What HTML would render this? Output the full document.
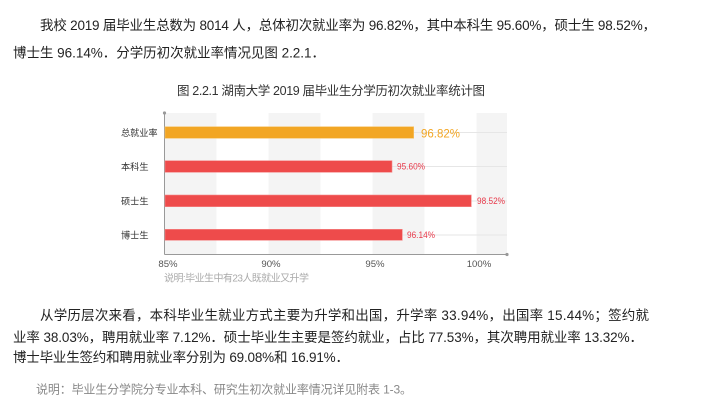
<!DOCTYPE html>
<html><head><meta charset="utf-8"><style>
html,body{margin:0;padding:0;background:#fff;}
svg{display:block;}
text{font-family:"Liberation Sans","Noto Sans CJK SC",sans-serif;}
</style></head><body>
<svg width="716" height="409" viewBox="0 0 716 409" xmlns="http://www.w3.org/2000/svg">
<rect width="716" height="409" fill="#fff"/>
<g fill="#222" font-size="13.5">
<text x="40" y="30" textLength="616" lengthAdjust="spacing">我校 2019 届毕业生总数为 8014 人，总体初次就业率为 96.82%，其中本科生 95.60%，硕士生 98.52%，</text>
<text x="13" y="57.5" textLength="312" lengthAdjust="spacing">博士生 96.14%．分学历初次就业率情况见图 2.2.1．</text>
<text x="40" y="320" textLength="609" lengthAdjust="spacing">从学历层次来看，本科毕业生就业方式主要为升学和出国，升学率 33.94%，出国率 15.44%；签约就</text>
<text x="13" y="342" textLength="630" lengthAdjust="spacing">业率 38.03%，聘用就业率 7.12%．硕士毕业生主要是签约就业，占比 77.53%，其次聘用就业率 13.32%．</text>
<text x="13" y="362" textLength="336" lengthAdjust="spacing">博士毕业生签约和聘用就业率分别为 69.08%和 16.91%．</text>
</g>
<text x="36" y="393.5" font-size="12" fill="#888" textLength="376" lengthAdjust="spacing">说明：毕业生分学院分专业本科、研究生初次就业率情况详见附表 1-3。</text>
<text x="177" y="95" font-size="12.5" fill="#333" textLength="308" lengthAdjust="spacing">图 2.2.1 湖南大学 2019 届毕业生分学历初次就业率统计图</text>

<!-- chart bands -->
<g fill="#f4f4f4">
<rect x="164.5" y="113" width="52" height="141"/>
<rect x="268.5" y="113" width="52" height="141"/>
<rect x="372.5" y="113" width="52" height="141"/>
<rect x="476.5" y="113" width="30.5" height="141"/>
</g>
<!-- grid lines -->
<g stroke="#e6e6e6" stroke-width="1">
<line x1="164.5" y1="132.5" x2="507" y2="132.5"/>
<line x1="164.5" y1="166.5" x2="507" y2="166.5"/>
<line x1="164.5" y1="201" x2="507" y2="201"/>
<line x1="164.5" y1="235" x2="507" y2="235"/>
</g>
<!-- axes -->
<g stroke="#999" stroke-width="1">
<line x1="164.5" y1="113" x2="164.5" y2="254.5"/>
<line x1="164.5" y1="254.5" x2="507" y2="254.5"/>
</g>
<circle cx="164.5" cy="113" r="1.6" fill="#999"/>
<circle cx="507" cy="254.5" r="1.6" fill="#999"/>
<!-- bars -->
<rect x="165" y="126.7" width="248.7" height="11.6" fill="#f2a624" stroke="#f7c56e" stroke-width="0.6"/>
<rect x="165" y="160.7" width="227" height="11.6" fill="#ee4b4b" stroke="#f58a8a" stroke-width="0.6"/>
<rect x="165" y="195" width="306.3" height="11.7" fill="#ee4b4b" stroke="#f58a8a" stroke-width="0.6"/>
<rect x="165" y="229.3" width="237.3" height="11" fill="#ee4b4b" stroke="#f58a8a" stroke-width="0.6"/>
<!-- value labels -->
<text x="421" y="137.3" font-size="12" fill="#f2a624" textLength="39" lengthAdjust="spacingAndGlyphs">96.82%</text>
<text x="397" y="169.6" font-size="8.8" fill="#e8394a" textLength="28" lengthAdjust="spacingAndGlyphs">95.60%</text>
<text x="477" y="204.1" font-size="8.8" fill="#e8394a" textLength="28" lengthAdjust="spacingAndGlyphs">98.52%</text>
<text x="407" y="238.1" font-size="8.8" fill="#e8394a" textLength="28" lengthAdjust="spacingAndGlyphs">96.14%</text>
<!-- category labels -->
<g font-size="9.2" fill="#333">
<text x="121" y="135.8" textLength="36.5" lengthAdjust="spacing">总就业率</text>
<text x="121" y="169.8" textLength="27.5" lengthAdjust="spacing">本科生</text>
<text x="121" y="204.3" textLength="27.5" lengthAdjust="spacing">硕士生</text>
<text x="121" y="238.3" textLength="27.5" lengthAdjust="spacing">博士生</text>
</g>
<!-- x ticks -->
<g font-size="9.6" fill="#555" text-anchor="middle">
<text x="168" y="266.8">85%</text>
<text x="271" y="266.8">90%</text>
<text x="375" y="266.8">95%</text>
<text x="479" y="266.8">100%</text>
</g>
<text x="164" y="281.6" font-size="10" fill="#aaa" textLength="145" lengthAdjust="spacing">说明:毕业生中有23人既就业又升学</text>
</svg>
</body></html>
